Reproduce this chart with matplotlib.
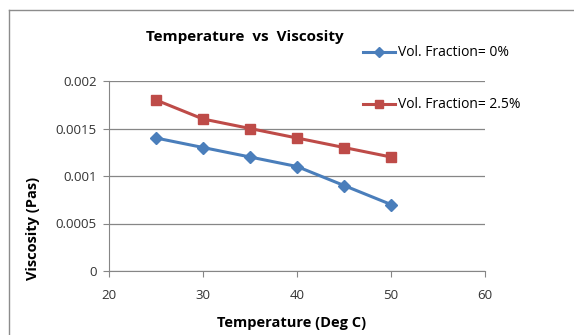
import matplotlib
matplotlib.use("Agg")
import matplotlib.pyplot as plt
from matplotlib.lines import Line2D

temperature = [25, 30, 35, 40, 45, 50]
visc_0 = [0.0014, 0.0013, 0.0012, 0.0011, 0.0009, 0.0007]
visc_25 = [0.0018, 0.0016, 0.0015, 0.0014, 0.0013, 0.0012]
labels = ["Vol. Fraction= 0%", "Vol. Fraction= 2.5%"]

BLUE = "#4a7ebb"
RED = "#be4b48"
GRID = "#868686"

plt.rcParams["font.family"] = ["Open Sans", "DejaVu Sans"]

W, H = 574, 335
fig = plt.figure(figsize=(W / 100, H / 100), dpi=100)

# chart frame (excel-style border, cut off at right/bottom)
fig.add_artist(Line2D([9 / W, 9 / W], [0, 1 - 10 / H], transform=fig.transFigure,
                      color="#8c8c8c", lw=1))
fig.add_artist(Line2D([9 / W, 1], [1 - 10 / H, 1 - 10 / H], transform=fig.transFigure,
                      color="#8c8c8c", lw=1))

ax = fig.add_axes([109 / W, 1 - 271 / H, (485 - 109) / W, (271 - 81) / H])
l1, = ax.plot(temperature, visc_0, color=BLUE, lw=2.2, marker="D", ms=6.5,
              label=labels[0])
l2, = ax.plot(temperature, visc_25, color=RED, lw=2.2, marker="s", ms=7.5,
              label=labels[1])

ax.set_xlim(20, 60)
ax.set_ylim(0, 0.002)
ax.set_xticks([20, 30, 40, 50, 60])
ax.set_yticks([0, 0.0005, 0.001, 0.0015, 0.002])
ax.set_yticklabels(["0", "0.0005", "0.001", "0.0015", "0.002"])
ax.grid(axis="y", color=GRID, lw=0.9)
ax.set_axisbelow(True)
for s in ["top", "right"]:
    ax.spines[s].set_visible(False)
for s in ["left", "bottom"]:
    ax.spines[s].set_color(GRID)
ax.tick_params(axis="both", colors=GRID, labelcolor="#333333", labelsize=9.5,
               length=4, direction="out")
ax.tick_params(axis="x", pad=9)
ax.tick_params(axis="y", pad=5)

fig.text(292 / W, 1 - 323 / H, "Temperature (Deg C)", ha="center", va="center",
         fontsize=10.5, fontweight="bold")
fig.text(33 / W, 1 - 228 / H, "Viscosity (Pas)", ha="center", va="center",
         rotation=90, fontsize=10.5, fontweight="bold")

fig.text(245 / W, 1 - 37 / H, "Temperature  vs  Viscosity", ha="center", va="center",
         fontsize=11, fontweight="bold")

for line, ypix in [(l1, 53), (l2, 105)]:
    fig.legend(handles=[line], loc="center left", bbox_to_anchor=(363 / W, 1 - ypix / H),
               frameon=False, fontsize=10, borderpad=0, borderaxespad=0,
               handlelength=2.3, handletextpad=0.2, markerscale=0.85)

fig.savefig("out.png", dpi=100)
